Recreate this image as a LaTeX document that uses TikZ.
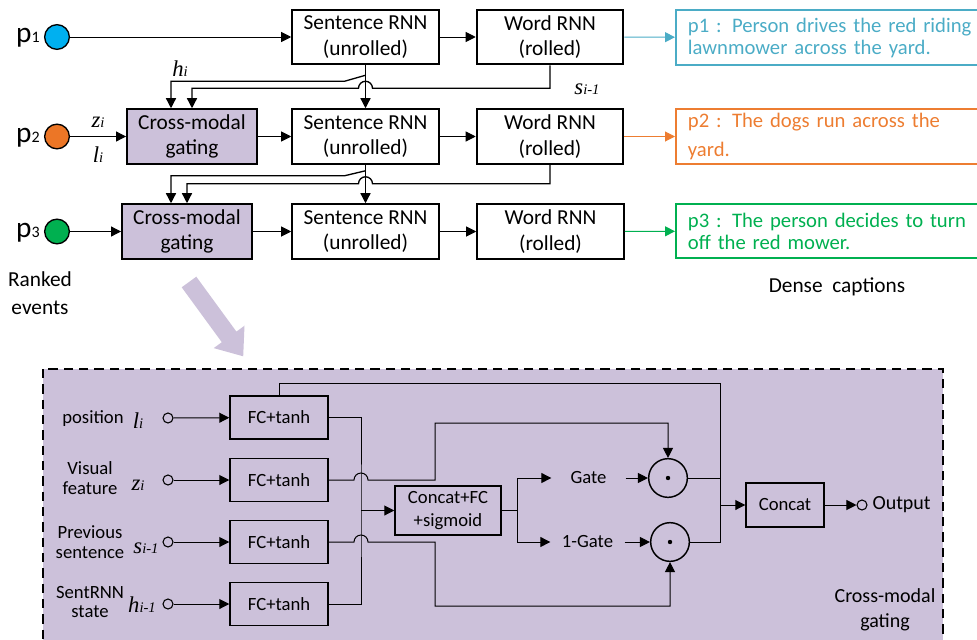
\documentclass[tikz,border=0pt]{standalone}
\usepackage{fontspec}
\setmainfont{Carlito}
\newfontfamily\tms{Liberation Serif}
\usetikzlibrary{arrows.meta,calc}

\definecolor{lavgate}{RGB}{204,193,218}
\definecolor{dotcyan}{RGB}{0,176,240}
\definecolor{dotorange}{RGB}{236,118,38}
\definecolor{dotgreen}{RGB}{0,176,80}
\definecolor{capcyan}{RGB}{75,172,198}
\definecolor{caporange}{RGB}{237,125,49}

\newcommand{\ivar}[2]{{\tms\itshape\fontsize{17}{17}\selectfont #1\fontsize{11}{11}\selectfont #2}}
\newcommand{\plbl}[1]{{\fontsize{22}{22}\selectfont p\fontsize{12}{12}\selectfont #1}}

\tikzset{every picture/.style={line width=0.75pt},
  arr/.style={-{Triangle[length=7.5pt,width=7.5pt]}},
  rnnbox/.style={draw,line width=1.4pt,minimum width=110pt,minimum height=41pt,inner sep=0pt,align=center,font=\fontsize{16}{19}\selectfont},
  gatebox/.style={rnnbox,fill=lavgate,minimum width=97.5pt},
  capbox/.style={draw,line width=1.4pt,minimum width=250pt,minimum height=41pt,inner xsep=9pt,inner ysep=0pt,text width=260pt,align=left,anchor=west,font=\fontsize{15.5}{16.5}\selectfont},
  evdot/.style={circle,draw,line width=1pt,minimum size=18.5pt,inner sep=0pt},
  fcbox/.style={draw,line width=1.1pt,minimum width=73.5pt,minimum height=32.25pt,inner sep=0pt,font=\fontsize{14}{17}\selectfont,align=center},
  port/.style={circle,draw,line width=0.8pt,minimum size=7.5pt,inner sep=0pt},
  prod/.style={circle,draw,line width=1.1pt,minimum size=29pt,inner sep=0pt},
  lbl/.style={inner sep=0pt,align=center,font=\fontsize{14}{14.5}\selectfont},
  gatelbl/.style={lbl,minimum width=55pt},
}

\begin{document}
\begin{tikzpicture}[x=0.75pt,y=0.75pt,yscale=-1,xscale=1]
\clip (0,0) rectangle (977,639);

%Shape: Circle (ranked events)
\node[evdot,fill=dotcyan] (ev1) at (57,37) {};
\node[evdot,fill=dotorange] (ev2) at (57,136.5) {};
\node[evdot,fill=dotgreen] (ev3) at (57,231.5) {};
% Text Node
\node (ev1lbl) at (28,38) {\plbl{1}};
\node (ev2lbl) at (28,137.5) {\plbl{2}};
\node (ev3lbl) at (28,232.5) {\plbl{3}};
\node[align=center,font=\fontsize{16}{21}\selectfont] (evtxt) at (40,293) {Ranked\\events};

%Shape: Rectangle (row 1)
\node[rnnbox] (sent1) at (365.5,37) {Sentence RNN\\(unrolled)};
\node[rnnbox] (word1) at (550,37) {Word RNN\\(rolled)};
\node[capbox,draw=capcyan,text=capcyan] (cap1) at (675,37.5) {p1 : Person drives the red riding\\lawnmower across the yard.};
%Shape: Rectangle (row 2)
\node[gatebox] (gate2) at (192,136.5) {Cross-modal\\gating};
\node[rnnbox] (sent2) at (365.5,136.5) {Sentence RNN\\(unrolled)};
\node[rnnbox] (word2) at (550,136.5) {Word RNN\\(rolled)};
\node[capbox,draw=caporange,text=caporange] (cap2) at (675,136.5) {p2 : The dogs run across the\\[5pt]yard.};
%Shape: Rectangle (row 3)
\node[gatebox] (gate3) at (187,231.5) {Cross-modal\\gating};
\node[rnnbox] (sent3) at (365.5,231.5) {Sentence RNN\\(unrolled)};
\node[rnnbox] (word3) at (550.5,231.5) {Word RNN\\(rolled)};
\node[capbox,draw=dotgreen,text=dotgreen] (cap3) at (675,231) {p3 : The person decides to turn\\off the red mower.};
% Text Node
\node[font=\fontsize{16}{16}\selectfont] (dense) at (837,287) {Dense\ \ captions};

%Straight Lines (rows)
\draw[arr] (ev1.east) -- (sent1.west);
\draw[arr] (sent1) -- (word1);
\draw[arr,capcyan] (word1) -- (cap1);
\draw[arr] (ev2) -- (gate2);
\draw[arr] (gate2) -- (sent2);
\draw[arr] (sent2) -- (word2);
\draw[arr,caporange] (word2) -- (cap2);
\draw[arr] (ev3) -- (gate3);
\draw[arr] (gate3) -- (sent3);
\draw[arr] (sent3) -- (word3);
\draw[arr,dotgreen] (word3) -- (cap3);

%Straight Lines (recurrence)
\draw[arr,line width=1pt] (sent1) -- (sent2);
\draw[arr,line width=1pt] ($(sent1.south)+(0,10)$) -- ++(-21,6) -| ($(gate2.north)+(-21,0)$);
\draw[arr,line width=1pt] (word1.south) |- ($(sent1.south)+(7,23)$) arc[start angle=0,end angle=-180,radius=7] -| (gate2.north);
\draw[arr,line width=1pt] (sent2) -- (sent3);
\draw[arr,line width=1pt] ($(sent2.south)+(0,6)$) -- ++(-21,5) -| ($(gate3.north)+(-16,0)$);
\draw[arr,line width=1pt] (word2.south) |- ($(sent2.south)+(7,19)$) arc[start angle=0,end angle=-180,radius=7] -| (gate3.north);
% Text Node
\node (hlbl) at (180,69) {\ivar{h}{i}};
\node (slbl) at (587,89) {\ivar{s}{i-1}};
\node (zlbl) at (98,122) {\ivar{z}{i}};
\node (llbl) at (98,155) {\ivar{l}{i}};

%Shape: Arrow (zoom)
\fill[lavgate] (181.7,287.3) -- (196.3,276.7) -- (236.4,331.6) -- (244.5,325.7) -- (243.2,356.3) -- (213.7,348.1) -- (221.8,342.2) -- cycle;

%Shape: Rectangle (gating detail)
\draw[fill=lavgate,line width=1.1pt,dash pattern=on 7pt off 4.5pt] (43,369) rectangle (943,680);

%Shape: Circle (inputs)
\node[port] (in1) at (168,418) {};
\node[port] (in2) at (168,480) {};
\node[port] (in3) at (168,542) {};
\node[port] (in4) at (168,604) {};
\node[fcbox] (fc1) at (279,417.5) {FC+tanh};
\node[fcbox] (fc2) at (279,480) {FC+tanh};
\node[fcbox] (fc3) at (279,542) {FC+tanh};
\node[fcbox] (fc4) at (279,604) {FC+tanh};
\draw[arr] (in1) -- (fc1);
\draw[arr] (in2) -- (fc2);
\draw[arr] (in3) -- (fc3);
\draw[arr] (in4) -- (fc4);
% Text Node
\node[lbl] (pos) at (93,419) {position};
\node (posv) at (138,421) {\ivar{l}{i}};
\node[lbl] (vis) at (90,478) {Visual\\feature};
\node (visv) at (138,485) {\ivar{z}{i}};
\node[lbl] (prev) at (90,542) {Previous\\sentence};
\node (prevv) at (146,548) {\ivar{s}{i-1}};
\node[lbl] (srnn) at (90,602) {SentRNN\\state};
\node (srnnv) at (142,605) {\ivar{h}{i-1}};

%Shape: Rectangle (gate)
\node[fcbox,minimum width=79.5pt,minimum height=36.75pt] (cfc) at (448,510.5) {Concat+FC\\+sigmoid};
\coordinate (bus) at (361,510.5);
\draw (fc1.east) -| (bus) |- (fc4.east);
\draw[arr] (bus) -- (cfc);

\node[prod] (prod1) at (668,478) {};
\node[prod] (prod2) at (670,542) {};
\fill (prod1) circle (2.2);
\fill (prod2) circle (2.2);
\node[gatelbl] (gt) at (588.5,478) {Gate};
\node[gatelbl] (ogt) at (587.5,542) {1-Gate};
\coordinate (sj) at (517,510.5);
\draw (cfc.east) -- (sj);
\draw[arr] (sj) |- (gt.west);
\draw[arr] (sj) |- (ogt.west);
\draw[arr] (gt) -- (prod1);
\draw[arr] (ogt) -- (prod2);

%Straight Lines (hops)
\draw[arr] (fc2.east) -- ($(bus |- fc2.east)+(-7,0)$) arc[start angle=180,end angle=360,radius=7] -- (435,480) -- (435,423) -| (prod1.north);
\draw[arr] (fc3.east) -- ($(bus |- fc3.east)+(-7,0)$) arc[start angle=180,end angle=360,radius=7] -- (435,542) -- (435,606) -| (prod2.south);

%Shape: Rectangle (concat)
\node[fcbox,minimum width=58.5pt,minimum height=33pt] (cat) at (785,505) {Concat};
\coordinate (cj) at (720,505);
\coordinate (ctop) at (720,383);
\draw (fc1.north) |- (ctop) -- (cj |- prod2.east) -- (prod2.east);
\draw (prod1.east) -- (cj |- prod1.east);
\draw[arr] (cj) -- (cat);
\node[port] (outp) at (862,505) {};
\draw[arr] (cat) -- (outp);
% Text Node
\node[lbl,font=\fontsize{15}{15}\selectfont,anchor=west] (outlbl) at (872,505) {Output};
\node[lbl,font=\fontsize{15}{19}\selectfont] (cmg) at (885,610) {Cross-modal\\gating};

\end{tikzpicture}
\end{document}
